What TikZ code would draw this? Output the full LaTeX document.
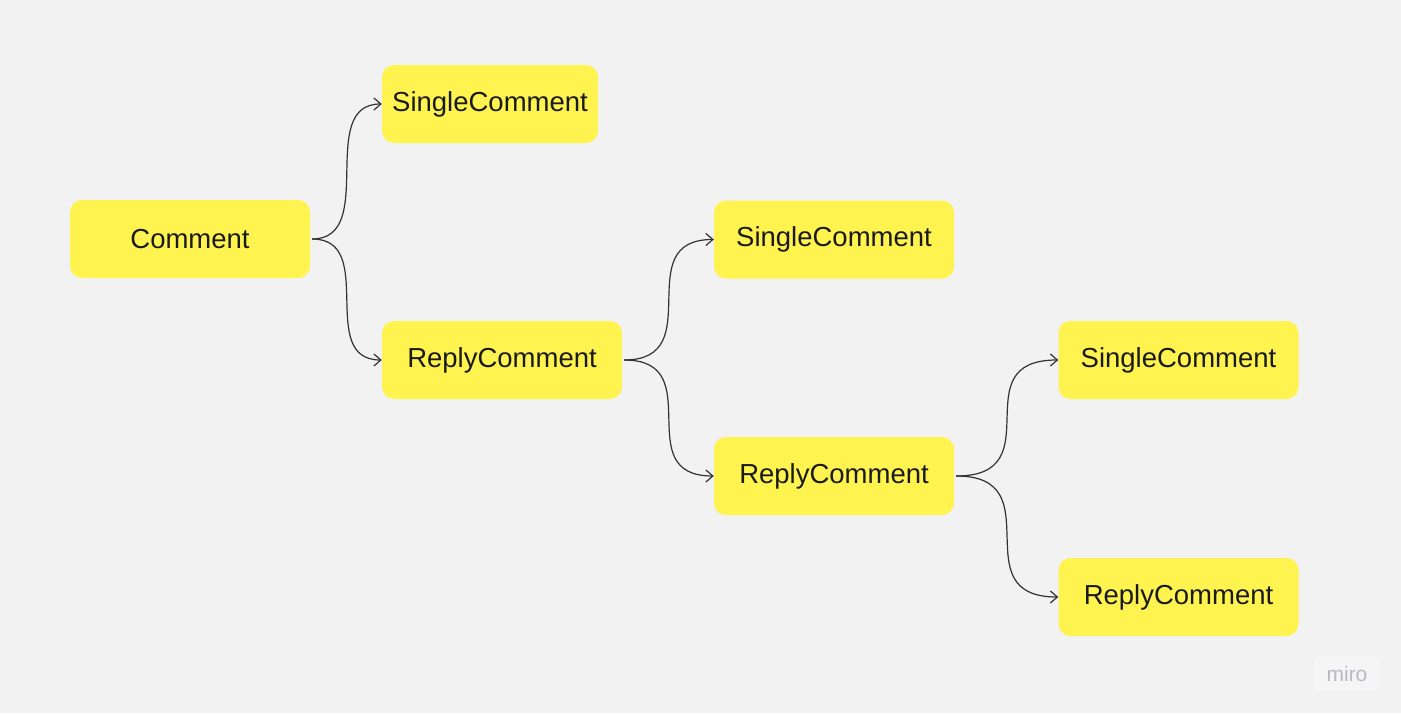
\documentclass[tikz,border=0pt]{standalone}
\usepackage{fontspec}
\setmainfont{Liberation Sans}
\usetikzlibrary{arrows.meta}
\definecolor{bg}{HTML}{F2F2F2}
\definecolor{yel}{HTML}{FFF44F}
\definecolor{ink}{HTML}{1A1A1A}
\definecolor{wire}{HTML}{333333}
\definecolor{logobg}{HTML}{F5F5F6}
\definecolor{logotx}{HTML}{B8B8C2}
\begin{document}
\begin{tikzpicture}[x=1pt,y=-1pt,
  box/.style={fill=yel, rounded corners=12pt, minimum height=78pt, minimum width=240pt,
    inner sep=0pt, text=ink, font=\fontsize{27.5}{33}\selectfont},
  link/.style={draw=wire, line width=1.2pt, -{Straight Barb[length=7pt,width=12pt]}}]
\fill[bg] (0,0) rectangle (1401,713);
\useasboundingbox (0,0) rectangle (1401,713);
\node[box] (c) at (190,239) {Comment};
\node[box, minimum width=216pt] (s1) at (490,104) {SingleComment};
\node[box] (r1) at (502,360) {ReplyComment};
\node[box] (s2) at (834,239.5) {SingleComment};
\node[box] (r2) at (834,476) {ReplyComment};
\node[box] (s3) at (1178.5,360) {SingleComment};
\node[box] (r3) at (1178.5,597) {ReplyComment};
\node[fill=logobg, rounded corners=6pt, minimum width=66pt, minimum height=34pt, inner sep=0pt,
  text=logotx, font=\fontsize{21}{24}\selectfont] (logo) at (1347,674) {miro};
\draw[link] ([xshift=2pt]c.east) .. controls +(66,0) and +(-66,0) .. (s1.west);
\draw[link] ([xshift=2pt]c.east) .. controls +(66,0) and +(-66,0) .. (r1.west);
\draw[link] ([xshift=2pt]r1.east) .. controls +(86,0) and +(-86,0) .. (s2.west);
\draw[link] ([xshift=2pt]r1.east) .. controls +(86,0) and +(-86,0) .. (r2.west);
\draw[link] ([xshift=2pt]r2.east) .. controls +(98,0) and +(-98,0) .. (s3.west);
\draw[link] ([xshift=2pt]r2.east) .. controls +(98,0) and +(-98,0) .. (r3.west);
\end{tikzpicture}
\end{document}
